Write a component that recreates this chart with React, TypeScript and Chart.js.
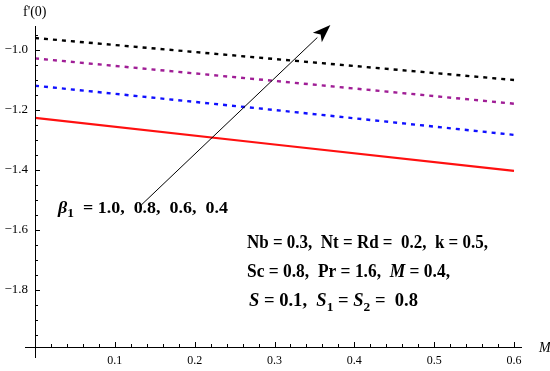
import React, { useEffect, useRef } from "react";
import { Chart, registerables } from "chart.js";

Chart.register(...registerables);

// M values (x) at which the curves were read
const mValues = [0, 0.3, 0.6];
// f'(0) for beta1 = 1.0, 0.8, 0.6, 0.4
const beta10 = [-0.96, -1.03, -1.1];
const beta08 = [-1.028, -1.103, -1.179];
const beta06 = [-1.119, -1.2, -1.283];
const beta04 = [-1.226, -1.315, -1.403];

const yMajorTicks = [-1.0, -1.2, -1.4, -1.6, -1.8];
const yMinorTicks = [-0.95, -1.05, -1.1, -1.15, -1.25, -1.3, -1.35, -1.45, -1.5, -1.55, -1.65, -1.7, -1.75, -1.85, -1.9, -1.95];
const xMajorTicks = [0.1, 0.2, 0.3, 0.4, 0.5, 0.6];
const xMinorTicks = [0.02, 0.04, 0.06, 0.08, 0.12, 0.14, 0.16, 0.18, 0.22, 0.24, 0.26, 0.28, 0.32, 0.34, 0.36, 0.38, 0.42, 0.44, 0.46, 0.48, 0.52, 0.54, 0.56, 0.58];

const SERIF = '"Liberation Serif", "Times New Roman", serif';

type Seg = { t: string; italic?: boolean; sub?: boolean };

function segFont(s: Seg, size: number) {
  const sz = s.sub ? Math.round(size * 0.72) : size;
  return `${s.italic ? "italic " : ""}bold ${sz}px ${SERIF}`;
}

function drawRich(ctx: CanvasRenderingContext2D, x: number, y: number, segs: Seg[], size: number, width: number) {
  let natural = 0;
  for (const s of segs) {
    ctx.font = segFont(s, size);
    natural += ctx.measureText(s.t).width;
  }
  ctx.save();
  ctx.translate(x, y);
  ctx.scale(width / natural, 1);
  let cx = 0;
  for (const s of segs) {
    ctx.font = segFont(s, size);
    ctx.fillText(s.t, cx, s.sub ? Math.round(size * 0.25) : 0);
    cx += ctx.measureText(s.t).width;
  }
  ctx.restore();
}

const fmt = (v: number) => (v < 0 ? "\u2212" : "") + Math.abs(v).toFixed(1);

const axesPlugin = {
  id: "mmaAxes",
  afterDraw(chart: any) {
    const ctx: CanvasRenderingContext2D = chart.ctx;
    const xs = chart.scales.x;
    const ys = chart.scales.y;
    const x0 = xs.getPixelForValue(0);
    const yb = chart.chartArea.bottom;
    const yt = chart.chartArea.top;
    const xr = chart.chartArea.right;
    ctx.save();
    ctx.strokeStyle = "#000";
    ctx.fillStyle = "#000";
    ctx.lineWidth = 1;
    // axes
    ctx.beginPath();
    ctx.moveTo(x0 + 0.5, yt);
    ctx.lineTo(x0 + 0.5, yb + 11);
    ctx.moveTo(x0 - 10, yb + 0.5);
    ctx.lineTo(xr, yb + 0.5);
    ctx.stroke();
    // ticks
    ctx.beginPath();
    for (const v of yMajorTicks) {
      const p = Math.round(ys.getPixelForValue(v)) + 0.5;
      ctx.moveTo(x0, p);
      ctx.lineTo(x0 + 5, p);
    }
    for (const v of yMinorTicks) {
      const p = Math.round(ys.getPixelForValue(v)) + 0.5;
      ctx.moveTo(x0, p);
      ctx.lineTo(x0 + 3, p);
    }
    for (const v of xMajorTicks) {
      const p = Math.round(xs.getPixelForValue(v)) + 0.5;
      ctx.moveTo(p, yb);
      ctx.lineTo(p, yb - 5);
    }
    for (const v of xMinorTicks) {
      const p = Math.round(xs.getPixelForValue(v)) + 0.5;
      ctx.moveTo(p, yb);
      ctx.lineTo(p, yb - 3);
    }
    ctx.stroke();
    // tick labels
    ctx.font = `13px ${SERIF}`;
    ctx.textAlign = "right";
    ctx.textBaseline = "middle";
    for (const v of yMajorTicks) {
      ctx.fillText(fmt(v), x0 - 7, ys.getPixelForValue(v));
    }
    ctx.font = `12px ${SERIF}`;
    ctx.textAlign = "center";
    for (const v of xMajorTicks) {
      ctx.fillText(v.toFixed(1), xs.getPixelForValue(v), yb + 14);
    }
    // axis labels
    ctx.textAlign = "left";
    ctx.font = `14px ${SERIF}`;
    ctx.fillText("f'(0)", x0 - 12, 12);
    ctx.font = `italic 14px ${SERIF}`;
    ctx.fillText("M", xr + 17, yb + 1);

    // arrow
    const ax1 = xs.getPixelForValue(0.133), ay1 = ys.getPixelForValue(-1.517);
    const ax2 = xs.getPixelForValue(0.37), ay2 = ys.getPixelForValue(-0.917);
    const ang = Math.atan2(ay2 - ay1, ax2 - ax1);
    const hl = 18, hw = 6.5;
    const bx = ax2 - hl * Math.cos(ang), by = ay2 - hl * Math.sin(ang);
    ctx.beginPath();
    ctx.moveTo(ax1, ay1);
    ctx.lineTo(bx, by);
    ctx.stroke();
    ctx.beginPath();
    ctx.moveTo(ax2, ay2);
    ctx.lineTo(bx - hw * Math.sin(ang), by + hw * Math.cos(ang));
    ctx.lineTo(ax2 - hl * 0.75 * Math.cos(ang), ay2 - hl * 0.75 * Math.sin(ang));
    ctx.lineTo(bx + hw * Math.sin(ang), by - hw * Math.cos(ang));
    ctx.closePath();
    ctx.fill();

    // annotations
    ctx.textBaseline = "alphabetic";
    drawRich(ctx, 58, 213, [
      { t: "\u03B2", italic: true },
      { t: "1", sub: true },
      { t: "  = 1.0,  0.8,  0.6,  0.4" },
    ], 16, 170);
    drawRich(ctx, 247, 248, [{ t: "Nb = 0.3,  Nt = Rd =  0.2,  k = 0.5," }], 18, 241);
    drawRich(ctx, 247, 277, [
      { t: "Sc = 0.8,  Pr = 1.6,  " },
      { t: "M", italic: true },
      { t: " = 0.4," },
    ], 18, 203);
    drawRich(ctx, 249, 306, [
      { t: "S", italic: true },
      { t: " = 0.1,  " },
      { t: "S", italic: true },
      { t: "1", sub: true },
      { t: " = " },
      { t: "S", italic: true },
      { t: "2", sub: true },
      { t: " =  0.8" },
    ], 18, 169);
    ctx.restore();
  },
};

const mk = (vals: number[]) => vals.map((y, i) => ({ x: mValues[i], y }));

export default function App() {
  const ref = useRef<HTMLCanvasElement | null>(null);
  useEffect(() => {
    document.body.style.margin = "0";
    const canvas = ref.current!;
    const chart = new Chart(canvas, {
      type: "line",
      data: {
        datasets: [
          { label: "1.0", data: mk(beta10), borderColor: "#000000", borderDash: [4, 5], borderWidth: 2.4 },
          { label: "0.8", data: mk(beta08), borderColor: "#a01e96", borderDash: [4, 5], borderWidth: 2.4 },
          { label: "0.6", data: mk(beta06), borderColor: "#1010ff", borderDash: [4, 5], borderWidth: 2.4 },
          { label: "0.4", data: mk(beta04), borderColor: "#ff1010", borderWidth: 2.2 },
        ],
      },
      options: {
        responsive: false,
        devicePixelRatio: 1,
        animation: false,
        layout: { padding: { left: 35, right: 28, top: 26, bottom: 24 } },
        elements: { point: { radius: 0 }, line: { tension: 0 } },
        plugins: { legend: { display: false }, tooltip: { enabled: false } },
        scales: {
          x: { type: "linear", min: 0, max: 0.61, display: false },
          y: { type: "linear", min: -1.99, max: -0.92, display: false },
        },
      },
      plugins: [axesPlugin],
    });
    return () => chart.destroy();
  }, []);
  return (
    <div style={{ position: "absolute", left: 0, top: 0, width: 550, height: 371, background: "#fff" }}>
      <canvas ref={ref} width={550} height={371} />
    </div>
  );
}
